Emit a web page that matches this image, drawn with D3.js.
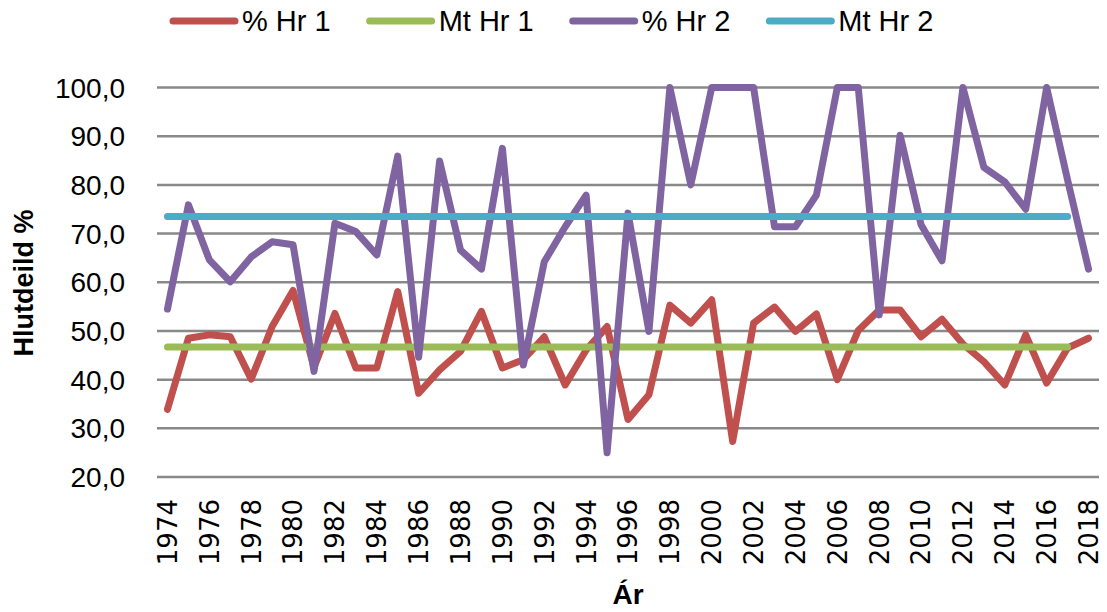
<!DOCTYPE html>
<html>
<head>
<meta charset="utf-8">
<script src="https://cdn.jsdelivr.net/npm/d3@7"></script>
<style>
  body { margin: 0; background: #ffffff; }
</style>
</head>
<body>
<svg id="chart"></svg>
<script>
const years = [1974, 1975, 1976, 1977, 1978, 1979, 1980, 1981, 1982, 1983,
  1984, 1985, 1986, 1987, 1988, 1989, 1990, 1991, 1992, 1993, 1994, 1995,
  1996, 1997, 1998, 1999, 2000, 2001, 2002, 2003, 2004, 2005, 2006, 2007,
  2008, 2009, 2010, 2011, 2012, 2013, 2014, 2015, 2016, 2017, 2018];

const pctHr1 = [33.9, 48.5, 49.2, 48.8, 40.1, 50.9, 58.3, 42.5, 53.6, 42.4,
  42.4, 58.1, 37.2, 42.0, 45.8, 54.0, 42.4, 44.1, 48.8, 38.9, 46.1, 50.9,
  31.8, 36.9, 55.3, 51.6, 56.4, 27.3, 51.6, 54.9, 49.9, 53.5, 40.0, 50.1,
  54.3, 54.3, 48.8, 52.4, 47.3, 43.7, 38.9, 49.2, 39.3, 46.5, 48.5];

const pctHr2 = [54.5, 75.9, 64.6, 60.1, 65.2, 68.3, 67.7, 41.7, 72.1, 70.4,
  65.6, 85.9, 44.6, 84.9, 66.6, 62.7, 87.5, 43.0, 64.2, 71.4, 77.9, 25.0,
  74.2, 49.9, 100, 80.0, 100, 100, 100, 71.4, 71.4, 77.9, 100, 100,
  53.3, 90.2, 71.8, 64.4, 100, 83.6, 80.6, 75.0, 100, 81.0, 62.7];

// mean lines run from first year to 2017
const meanYears = [1974, 2017];
const meanHr1 = [46.7, 46.7];
const meanHr2 = [73.5, 73.5];

const yTicks = [20, 30, 40, 50, 60, 70, 80, 90, 100];
const xTickYears = years.filter((d, i) => i % 2 === 0);

const seriesNames = ["% Hr 1", "Mt Hr 1", "% Hr 2", "Mt Hr 2"];
const seriesColors = ["#C0504D", "#9BBB59", "#8064A2", "#4BACC6"];

const width = 1107;
const height = 612;
const plot = { left: 157, right: 1099, top: 87.5, bottom: 477 };

const svg = d3.select("#chart").attr("width", width).attr("height", height);

const x = d3.scaleBand().domain(years).range([plot.left, plot.right]);
const y = d3.scaleLinear().domain([20, 100]).range([plot.bottom, plot.top]);
const cx = (yr) => x(yr) + x.bandwidth() / 2;

const fmt = (v) => d3.format(".1f")(v).replace(".", ",");

// horizontal gridlines
svg
  .append("g")
  .selectAll("line")
  .data(yTicks)
  .enter()
  .append("line")
  .attr("x1", plot.left)
  .attr("x2", plot.right)
  .attr("y1", (d) => y(d))
  .attr("y2", (d) => y(d))
  .style("stroke", "#898989")
  .style("stroke-width", 2.5);

// y tick labels
svg
  .append("g")
  .selectAll("text")
  .data(yTicks)
  .enter()
  .append("text")
  .attr("x", 125)
  .attr("y", (d) => y(d))
  .attr("dy", "0.36em")
  .attr("text-anchor", "end")
  .style("font-family", "Liberation Sans, Arial, sans-serif")
  .style("font-size", "28px")
  .style("fill", "#000")
  .text(fmt);

// x tick labels, rotated
svg
  .append("g")
  .selectAll("text")
  .data(xTickYears)
  .enter()
  .append("text")
  .attr("transform", (d) => `translate(${cx(d)}, 499) rotate(-90)`)
  .attr("dy", "0.36em")
  .attr("text-anchor", "end")
  .style("font-family", "DejaVu Sans, sans-serif")
  .style("font-size", "26px")
  .style("fill", "#000")
  .text((d) => d);

// axis titles
svg
  .append("text")
  .attr("transform", "translate(33, 283) rotate(-90)")
  .attr("text-anchor", "middle")
  .style("font-family", "Liberation Sans, Arial, sans-serif")
  .style("font-size", "27px")
  .style("font-weight", "bold")
  .text("Hlutdeild %");

svg
  .append("text")
  .attr("x", (plot.left + plot.right) / 2)
  .attr("y", 604)
  .attr("text-anchor", "middle")
  .style("font-family", "Liberation Sans, Arial, sans-serif")
  .style("font-size", "28px")
  .style("font-weight", "bold")
  .text("Ár");

// series lines, drawn in legend order
const line = d3
  .line()
  .x((d) => cx(d[0]))
  .y((d) => y(d[1]));

const seriesData = [
  d3.zip(years, pctHr1),
  d3.zip(meanYears, meanHr1),
  d3.zip(years, pctHr2),
  d3.zip(meanYears, meanHr2),
];

svg
  .append("g")
  .selectAll("path")
  .data(seriesData)
  .enter()
  .append("path")
  .attr("d", line)
  .style("fill", "none")
  .style("stroke", (d, i) => seriesColors[i])
  .style("stroke-width", 7)
  .style("stroke-linejoin", "round")
  .style("stroke-linecap", "round");

// legend
const legend = svg.append("g");
let lx = 170;
seriesNames.forEach(function (name, i) {
  legend
    .append("line")
    .attr("x1", lx + 3)
    .attr("x2", lx + 65)
    .attr("y1", 21)
    .attr("y2", 21)
    .style("stroke", seriesColors[i])
    .style("stroke-width", 7)
    .style("stroke-linecap", "round");
  const t = legend
    .append("text")
    .attr("x", lx + 72)
    .attr("y", 31)
    .style("font-family", "Liberation Sans, Arial, sans-serif")
    .style("font-size", "29px")
    .text(name);
  lx += 72 + t.node().getComputedTextLength() + 36;
});
</script>
</body>
</html>
